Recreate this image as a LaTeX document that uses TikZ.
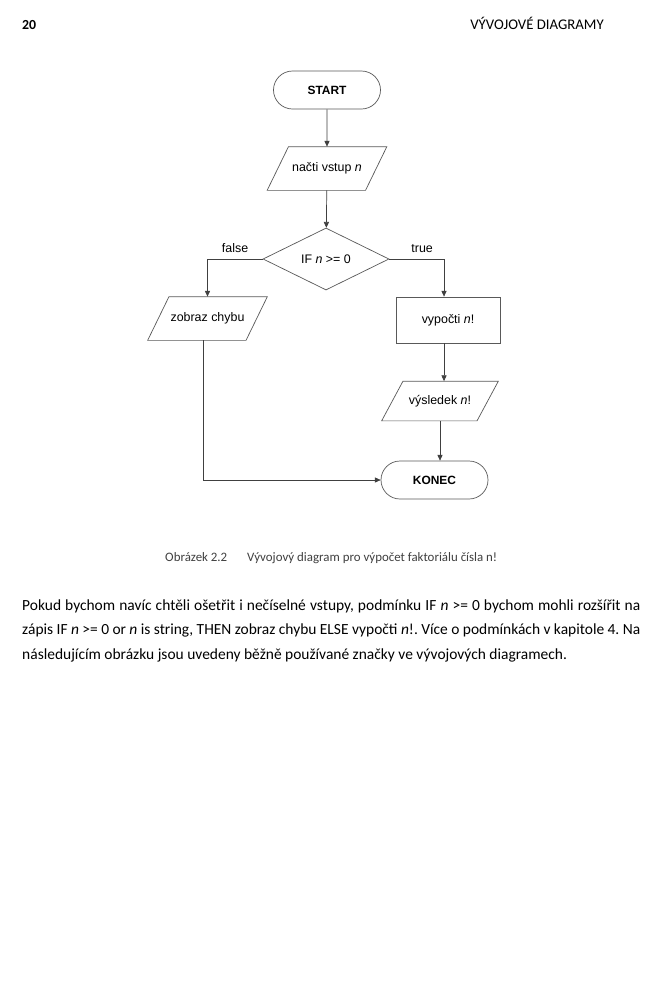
\documentclass[tikz,border=0pt]{standalone}
\usepackage{fontspec}
\setmainfont{Carlito}
\newfontfamily\diafont{Liberation Sans}
\usetikzlibrary{shapes.geometric,shapes.misc,arrows.meta}

\tikzset{
  outline/.style={draw=black!65, line width=0.6pt},
  base/.style={outline, inner sep=0pt, align=center,
    font=\diafont\fontsize{10.6}{12}\selectfont},
  terminal/.style={base, rounded rectangle, minimum width=3.21cm, minimum height=1.14cm,
    font=\diafont\bfseries\fontsize{10.2}{12}\selectfont},
  io/.style={base, draw=none, rectangle, minimum width=3.57cm, minimum height=1.29cm},
  decision/.style={base, diamond, minimum width=3.78cm, minimum height=1.86cm},
  process/.style={base, rectangle, minimum width=3.12cm, minimum height=1.38cm},
  flow/.style={draw=black!75, line width=0.6pt, -{Triangle[length=5pt,width=4.4pt]}},
  lbl/.style={font=\diafont\fontsize{10.6}{12}\selectfont, inner sep=0pt},
}

\begin{document}
\begin{tikzpicture}[x=0.03cm, y=-0.03cm]
  % page
  \fill[white] (0,0) rectangle (661,1000);
  \useasboundingbox (0,0) rectangle (661,1000);

  % header
  \node[anchor=base west, inner sep=0pt, font=\bfseries\fontsize{11.8}{14}\selectfont] (pageno) at (22,29) {20};
  \node[anchor=base east, inner sep=0pt, font=\fontsize{12.6}{14}\selectfont] (head) at (604,29) {VÝVOJOVÉ DIAGRAMY};

  % flowchart
  \node[terminal] (start) at (327,90) {START};
  \node[io] (read) at (327,168.5) {načti vstup \textit{n}};
  \node[decision] (dec) at (326,259) {IF \textit{n} >= 0};
  \node[io] (err) at (207.5,318.5) {zobraz chybu};
  \node[process] (calc) at (448,320) {vypočti \textit{n}!};
  \node[io, minimum width=3.48cm, minimum height=1.17cm] (res) at (440,401) {výsledek \textit{n}!};
  \node[terminal] (stop) at (434.5,480) {KONEC};

  % parallelograms for input/output
  \foreach \n in {read,err,res}
    \draw[outline] (\n.south west) -- ([xshift=-0.64cm]\n.south east) -- (\n.north east)
      -- ([xshift=0.64cm]\n.north west) -- cycle;

  \draw[flow] (start) -- (read);
  \draw[flow] (read) -- (dec);
  \draw[flow] (dec.west) -| node[lbl, pos=0.25, above=5pt] {false} (err.north);
  \draw[flow] (dec.east) -| node[lbl, pos=0.3, above=5pt] {true} ([xshift=-3.4pt]calc.north);
  \draw[flow] ([xshift=-3.4pt]calc.south) -- ([xshift=-3.4pt]calc.south |- res.north);
  \draw[flow] (res.south) -- (res.south |- stop.north);
  \draw[flow] ([xshift=-3.4pt]err.south) |- (stop.west);

  % caption
  \node[anchor=base west, inner sep=0pt, text=black!75, font=\fontsize{11}{13}\selectfont] (capno) at (165,561) {Obrázek 2.2};
  \node[anchor=base west, inner sep=0pt, text=black!75, font=\fontsize{11}{13}\selectfont] (captext) at (247,561) {Vývojový diagram pro výpočet faktoriálu čísla n!};

  % paragraph
  \node[anchor=north west, inner sep=0pt, text width=18.54cm, align=justify,
        font=\fontsize{13.2}{20.5}\selectfont\frenchspacing] (para) at (22,600)
    {Pokud bychom navíc chtěli ošetřit i nečíselné vstupy, podmínku IF \textit{n} >= 0 bychom mohli rozšířit na\linebreak
     zápis IF \textit{n} >= 0 or \textit{n} is string, THEN zobraz chybu ELSE vypočti \textit{n}!. Více o podmínkách v kapitole 4. Na\linebreak
     následujícím obrázku jsou uvedeny běžně používané značky ve vývojových diagramech.};
\end{tikzpicture}
\end{document}
